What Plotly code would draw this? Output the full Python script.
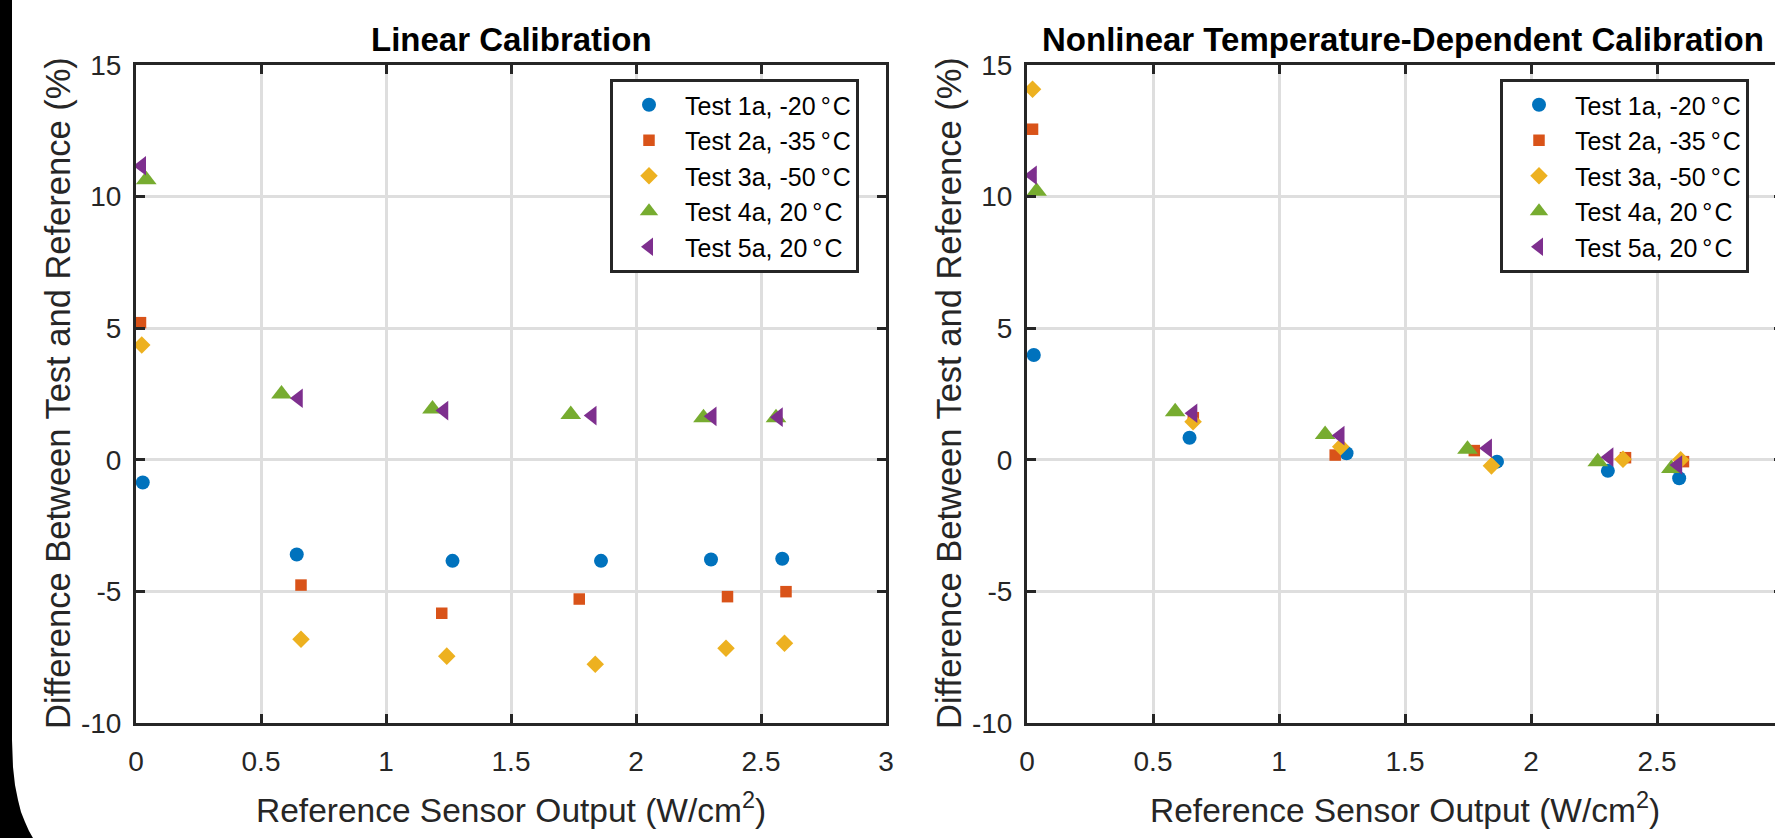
import plotly.graph_objects as go

# ---------------- data ----------------
series_names = ["Test 1a, -20\u2009°\u200aC", "Test 2a, -35\u2009°\u200aC", "Test 3a, -50\u2009°\u200aC",
                "Test 4a, 20\u2009°\u200aC", "Test 5a, 20\u2009°\u200aC"]

# Linear calibration
lin_x1 = [0.027, 0.643, 1.266, 1.860, 2.300, 2.585]
lin_y1 = [-0.86, -3.60, -3.84, -3.84, -3.79, -3.76]
lin_x2 = [0.018, 0.660, 1.223, 1.773, 2.366, 2.600]
lin_y2 = [5.21, -4.76, -5.83, -5.29, -5.20, -5.01]
lin_x3 = [0.023, 0.660, 1.243, 1.837, 2.360, 2.594]
lin_y3 = [4.36, -6.82, -7.46, -7.77, -7.16, -6.97]
lin_x4 = [0.041, 0.582, 1.186, 1.739, 2.270, 2.560]
lin_y4 = [10.64, 2.50, 1.93, 1.72, 1.60, 1.60]
lin_x5 = [0.023, 0.650, 1.232, 1.825, 2.305, 2.570]
lin_y5 = [11.17, 2.34, 1.87, 1.68, 1.65, 1.62]

# Nonlinear temperature-dependent calibration
nl_x1 = [0.027, 0.645, 1.268, 1.865, 2.305, 2.588]
nl_y1 = [3.98, 0.84, 0.25, -0.07, -0.42, -0.70]
nl_x2 = [0.022, 0.660, 1.223, 1.775, 2.375, 2.605]
nl_y2 = [12.56, 1.60, 0.18, 0.35, 0.08, -0.07]
nl_x3 = [0.022, 0.659, 1.245, 1.843, 2.365, 2.594]
nl_y3 = [14.08, 1.45, 0.50, -0.23, 0.02, 0.00]
nl_x4 = [0.038, 0.588, 1.183, 1.748, 2.265, 2.557]
nl_y4 = [10.20, 1.83, 0.96, 0.40, -0.07, -0.33]
nl_x5 = [0.022, 0.659, 1.243, 1.828, 2.310, 2.583]
nl_y5 = [10.81, 1.77, 0.92, 0.44, 0.10, -0.20]

x_ticks = [0, 0.5, 1, 1.5, 2, 2.5, 3]
x_ticklabels = ["0", "0.5", "1", "1.5", "2", "2.5", "3"]
y_ticks = [-10, -5, 0, 5, 10, 15]
y_ticklabels = ["-10", "-5", "0", "5", "10", "15"]

titles = ["Linear Calibration", "Nonlinear Temperature-Dependent Calibration"]
x_title = "Reference Sensor Output (W/cm<sup>2</sup>)"
y_title = "Difference Between Test and Reference (%)"

# ---------------- style ----------------
colors = ["#0072BD", "#D95319", "#EDB120", "#77AC30", "#7E2F8E"]
symbols = ["circle", "square", "diamond", "triangle-up", "triangle-left"]
sizes = [14, 11.5, 13.5, 18, 17]
FONT = "Liberation Sans, Arial, Helvetica, sans-serif"
AX = "#262626"
W, H = 1800, 838


def px(x):
    return x / W


def py(y):
    return 1 - y / H


fig = go.Figure()

lin_sets = [(lin_x1, lin_y1), (lin_x2, lin_y2), (lin_x3, lin_y3), (lin_x4, lin_y4), (lin_x5, lin_y5)]
nl_sets = [(nl_x1, nl_y1), (nl_x2, nl_y2), (nl_x3, nl_y3), (nl_x4, nl_y4), (nl_x5, nl_y5)]

for i, (xs, ys) in enumerate(lin_sets):
    fig.add_trace(go.Scatter(
        x=xs, y=ys, mode="markers", name=series_names[i],
        marker=dict(color=colors[i], symbol=symbols[i], size=sizes[i], line=dict(width=0)),
        xaxis="x", yaxis="y", legend="legend"))
for i, (xs, ys) in enumerate(nl_sets):
    fig.add_trace(go.Scatter(
        x=xs, y=ys, mode="markers", name=series_names[i],
        marker=dict(color=colors[i], symbol=symbols[i], size=sizes[i], line=dict(width=0)),
        xaxis="x2", yaxis="y2", legend="legend2"))

common_x = dict(range=[0, 3],
                showgrid=True, gridcolor="#dedede", gridwidth=2.5, zeroline=False,
                showline=True, linecolor=AX, linewidth=3, mirror="ticks",
                ticks="inside", ticklen=9, tickwidth=3, tickcolor=AX,
                tickfont=dict(family=FONT, size=28, color=AX), automargin=False,
                ticklabelstandoff=11, fixedrange=True)
common_y = dict(range=[-10, 15], tickvals=y_ticks, ticktext=y_ticklabels,
                showgrid=True, gridcolor="#dedede", gridwidth=2.5, zeroline=False,
                showline=True, linecolor=AX, linewidth=3, mirror="ticks",
                ticks="inside", ticklen=9, tickwidth=3, tickcolor=AX,
                tickfont=dict(family=FONT, size=28, color=AX), automargin=False,
                ticklabelstandoff=6, fixedrange=True)

leg_common = dict(xanchor="left", yanchor="top", bgcolor="white", bordercolor=AX, borderwidth=3,
                  font=dict(family=FONT, size=25, color="black"), itemwidth=62,
                  tracegroupgap=0)

annotations = [
    dict(text="<b>" + titles[0] + "</b>", x=px(511), y=py(39), xref="paper", yref="paper",
         showarrow=False, font=dict(family=FONT, size=33, color="black"), xanchor="center", yanchor="middle"),
    dict(text="<b>" + titles[1] + "</b>", x=px(1403), y=py(39), xref="paper", yref="paper",
         showarrow=False, font=dict(family=FONT, size=33, color="black"), xanchor="center", yanchor="middle"),
    dict(text=x_title, x=px(511), y=py(808), xref="paper", yref="paper",
         showarrow=False, font=dict(family=FONT, size=33.5, color=AX), xanchor="center", yanchor="middle"),
    dict(text=x_title, x=px(1405), y=py(808), xref="paper", yref="paper",
         showarrow=False, font=dict(family=FONT, size=33.5, color=AX), xanchor="center", yanchor="middle"),
    dict(text=y_title, x=px(58), y=py(393), xref="paper", yref="paper", textangle=-90,
         showarrow=False, font=dict(family=FONT, size=34.5, color=AX), xanchor="center", yanchor="middle"),
    dict(text=y_title, x=px(949), y=py(393), xref="paper", yref="paper", textangle=-90,
         showarrow=False, font=dict(family=FONT, size=34.5, color=AX), xanchor="center", yanchor="middle"),
]

# black rounded bezel on the left edge
bezel_px = [(0, 0), (12, 0), (12, 740), (13, 767), (15, 785), (18, 800), (21, 812), (25, 822), (29, 831), (33, 838), (0, 838)]
bezel_path = "M " + " L ".join(f"{px(a):.5f},{py(b):.5f}" for a, b in bezel_px) + " Z"

fig.update_layout(
    width=W, height=H,
    margin=dict(l=0, r=0, t=0, b=0, pad=0),
    paper_bgcolor="white", plot_bgcolor="white",
    xaxis=dict(domain=[px(136), px(886)], anchor="y", tickvals=x_ticks, ticktext=x_ticklabels, **common_x),
    yaxis=dict(domain=[py(723), py(65)], anchor="x", **common_y),
    xaxis2=dict(domain=[px(1027), px(1783)], anchor="y2", tickvals=x_ticks[:-1], ticktext=x_ticklabels[:-1],
                **common_x),
    yaxis2=dict(domain=[py(723), py(65)], anchor="x2", **common_y),
    legend=dict(x=px(610), y=py(79), **leg_common),
    legend2=dict(x=px(1500), y=py(79), **leg_common),
    annotations=annotations,
    shapes=[dict(type="path", path=bezel_path, xref="paper", yref="paper",
                 fillcolor="black", line=dict(width=0), layer="above")],
    font=dict(family=FONT),
)

fig.write_html("out.html", config={"displayModeBar": False},
               post_script="document.body.style.margin='0';document.body.style.overflow='hidden';")
